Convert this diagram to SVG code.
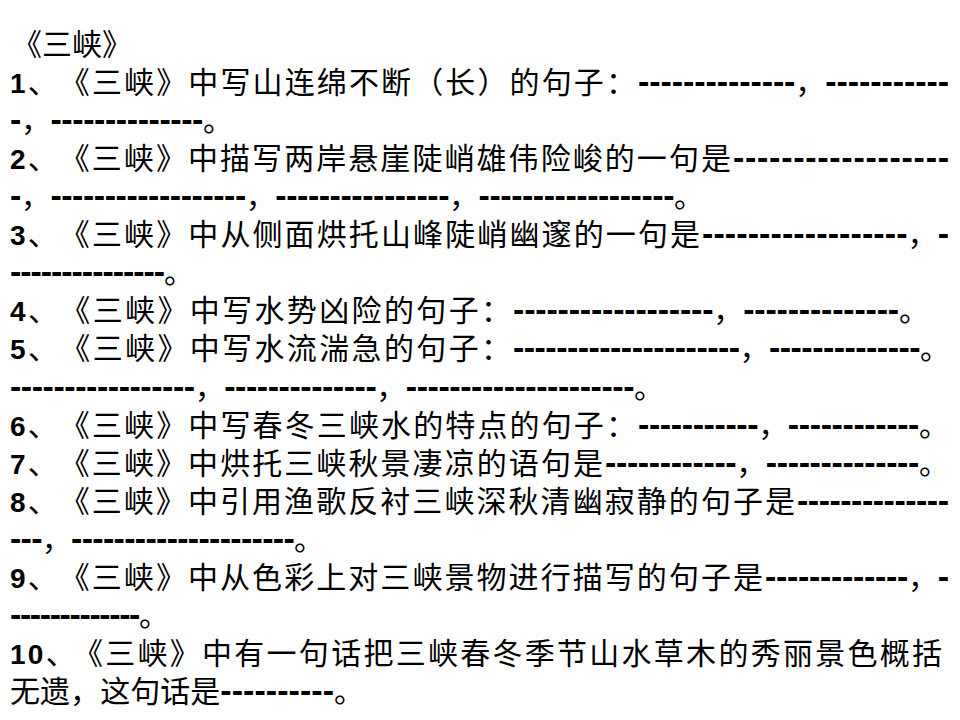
<svg xmlns="http://www.w3.org/2000/svg" width="960" height="720" viewBox="0 0 960 720">
<style>
text{font-family:"Liberation Sans","Noto Sans CJK SC",sans-serif;font-size:30px;fill:#000}
.n{font-weight:bold;font-size:28px}
.d{font-weight:bold;font-size:34px}
</style>
<rect width="960" height="720" fill="#fff"/>
<text id="title" x="12" y="55" font-size="29">《三峡》</text>
<g id="q1">
<text x="10" y="93" textLength="626" lengthAdjust="spacing"><tspan class="n">1</tspan>、<tspan dx="15">《三峡》中写山连绵不断（长）的句子：</tspan></text>
<text x="638" y="93" textLength="311" lengthAdjust="spacing"><tspan class="d">--------------</tspan>，<tspan class="d">-----------</tspan></text>
<text x="10" y="131" textLength="223" lengthAdjust="spacing"><tspan class="d">-</tspan>，<tspan class="d">--------------</tspan>。</text>
</g>
<g id="q2">
<text x="10" y="169" textLength="721" lengthAdjust="spacing"><tspan class="n">2</tspan>、<tspan dx="15">《三峡》中描写两岸悬崖陡峭雄伟险峻的一句是</tspan></text>
<text x="733" y="169" textLength="216" lengthAdjust="spacing"><tspan class="d">------------------</tspan></text>
<text x="10" y="207" textLength="694" lengthAdjust="spacing"><tspan class="d">-</tspan>，<tspan class="d">------------------</tspan>，<tspan class="d">----------------</tspan>，<tspan class="d">------------------</tspan>。</text>
</g>
<g id="q3">
<text x="10" y="245" textLength="690" lengthAdjust="spacing"><tspan class="n">3</tspan>、<tspan dx="15">《三峡》中从侧面烘托山峰陡峭幽邃的一句是</tspan></text>
<text x="702" y="245" textLength="247" lengthAdjust="spacing"><tspan class="d">------------------</tspan>，<tspan class="d">-</tspan></text>
<text x="10" y="283" textLength="184" lengthAdjust="spacing"><tspan class="d">---------------</tspan>。</text>
</g>
<g id="q4">
<text x="10" y="321" textLength="501" lengthAdjust="spacing"><tspan class="n">4</tspan>、<tspan dx="15">《三峡》中写水势凶险的句子：</tspan></text>
<text x="513" y="321" textLength="416" lengthAdjust="spacing"><tspan class="d">------------------</tspan>，<tspan class="d">--------------</tspan>。</text>
</g>
<g id="q5">
<text x="10" y="359" textLength="501" lengthAdjust="spacing"><tspan class="n">5</tspan>、<tspan dx="15">《三峡》中写水流湍急的句子：</tspan></text>
<text x="513" y="359" textLength="437" lengthAdjust="spacing"><tspan class="d">---------------------</tspan>，<tspan class="d">--------------</tspan>。</text>
<text x="10" y="398" textLength="654" lengthAdjust="spacing"><tspan class="d">-----------------</tspan>，<tspan class="d">--------------</tspan>，<tspan class="d">---------------------</tspan>。</text>
</g>
<g id="q6">
<text x="10" y="436" textLength="626" lengthAdjust="spacing"><tspan class="n">6</tspan>、<tspan dx="15">《三峡》中写春冬三峡水的特点的句子：</tspan></text>
<text x="638" y="436" textLength="311" lengthAdjust="spacing"><tspan class="d">-----------</tspan>，<tspan class="d">------------</tspan>。</text>
</g>
<g id="q7">
<text x="10" y="474" textLength="593" lengthAdjust="spacing"><tspan class="n">7</tspan>、<tspan dx="15">《三峡》中烘托三峡秋景凄凉的语句是</tspan></text>
<text x="605" y="474" textLength="344" lengthAdjust="spacing"><tspan class="d">------------</tspan>，<tspan class="d">--------------</tspan>。</text>
</g>
<g id="q8">
<text x="10" y="512" textLength="785" lengthAdjust="spacing"><tspan class="n">8</tspan>、<tspan dx="15">《三峡》中引用渔歌反衬三峡深秋清幽寂静的句子是</tspan></text>
<text x="797" y="512" textLength="152" lengthAdjust="spacing"><tspan class="d">--------------</tspan></text>
<text x="10" y="550" textLength="314" lengthAdjust="spacing"><tspan class="d">---</tspan>，<tspan class="d">---------------------</tspan>。</text>
</g>
<g id="q9">
<text x="10" y="588" textLength="753" lengthAdjust="spacing"><tspan class="n">9</tspan>、<tspan dx="15">《三峡》中从色彩上对三峡景物进行描写的句子是</tspan></text>
<text x="765" y="588" textLength="184" lengthAdjust="spacing"><tspan class="d">-------------</tspan>，<tspan class="d">-</tspan></text>
<text x="10" y="626" textLength="159" lengthAdjust="spacing"><tspan class="d">-------------</tspan>。</text>
</g>
<g id="q10">
<text x="10" y="664" textLength="932" lengthAdjust="spacing"><tspan class="n">10</tspan>、<tspan dx="10">《三峡》中有一句话把三峡春冬季节山水草木的秀丽景色概括</tspan></text>
<text x="10" y="702" textLength="354" lengthAdjust="spacing">无遗，这句话是<tspan class="d">----------</tspan>。</text>
</g>
</svg>
